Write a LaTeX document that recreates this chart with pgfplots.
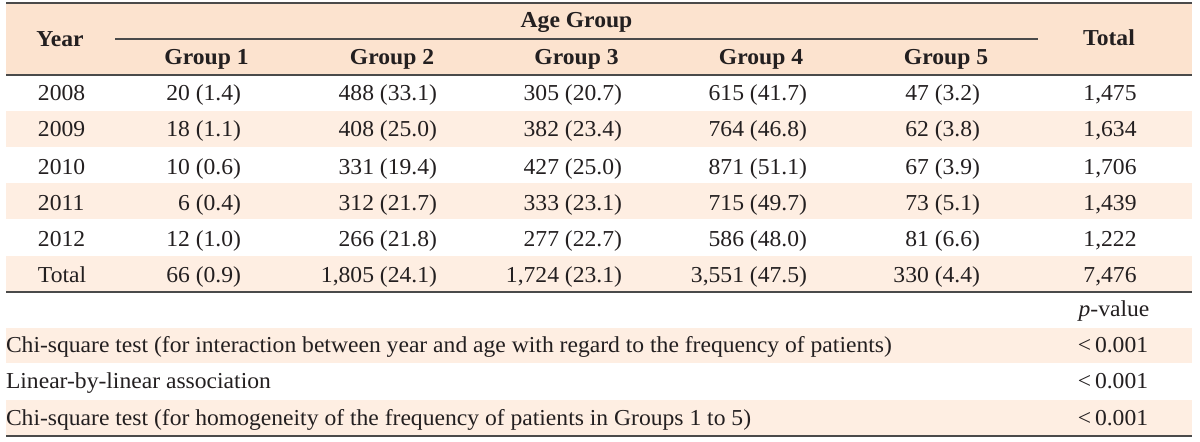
\documentclass[border=0pt]{standalone}
\usepackage{fontspec}
\setmainfont{Liberation Serif}[FakeStretch=1.035]
\usepackage{pgfplots}
\pgfplotsset{compat=1.18}
\definecolor{hdr}{HTML}{FCE3CF}
\definecolor{band}{HTML}{FEEEE2}
\definecolor{rule}{HTML}{4A4A4A}
\definecolor{txt}{HTML}{231F20}
\begin{document}
\begin{tikzpicture}[every node/.append style={inner sep=0pt, outer sep=0pt, text=txt, font=\fontsize{11.4}{13}\selectfont}]
\begin{axis}[
  scale only axis, width=600pt, height=220.5pt,
  xmin=0, xmax=1200, ymin=0, ymax=441, y dir=reverse,
  enlargelimits=false, hide axis, clip=false,
]
\path (axis cs:0,0) rectangle (axis cs:1200,441);
% shading
\fill[hdr] (axis cs:6,3) rectangle (axis cs:1192,75);
\fill[band] (axis cs:6,111) rectangle (axis cs:1192,147);
\fill[band] (axis cs:6,183) rectangle (axis cs:1192,219);
\fill[band] (axis cs:6,256) rectangle (axis cs:1192,291);
\fill[band] (axis cs:6,328) rectangle (axis cs:1192,363);
\fill[band] (axis cs:6,400) rectangle (axis cs:1192,435);
% rules
\draw[rule, line width=1pt] (axis cs:6,3) -- (axis cs:1192,3);
\draw[rule, line width=0.6pt] (axis cs:115,39) -- (axis cs:1038,39);
\draw[rule, line width=1pt] (axis cs:6,75) -- (axis cs:1192,75);
\draw[rule, line width=1pt] (axis cs:6,292) -- (axis cs:1192,292);
\draw[rule, line width=1pt] (axis cs:6,436) -- (axis cs:1192,436);
% header
\node[anchor=base] at (axis cs:60,47) {\textbf{Year}};
\node[anchor=base] at (axis cs:576.5,28) {\textbf{Age Group}};
\node[anchor=base] at (axis cs:1109,46) {\textbf{Total}};
\node[anchor=base] at (axis cs:206.5,65) {\textbf{Group 1}};
\node[anchor=base] at (axis cs:392,65) {\textbf{Group 2}};
\node[anchor=base] at (axis cs:576.5,65) {\textbf{Group 3}};
\node[anchor=base] at (axis cs:761,65) {\textbf{Group 4}};
\node[anchor=base] at (axis cs:946,65) {\textbf{Group 5}};
% year column
\node[anchor=base west] at (axis cs:38,101) {2008};
\node[anchor=base west] at (axis cs:38,137) {2009};
\node[anchor=base west] at (axis cs:38,174) {2010};
\node[anchor=base west] at (axis cs:38,210) {2011};
\node[anchor=base west] at (axis cs:38,246) {2012};
\node[anchor=base west] at (axis cs:38,282) {Total};
% group 1
\node[anchor=base east] at (axis cs:241,101) {20 (1.4)};
\node[anchor=base east] at (axis cs:241,137) {18 (1.1)};
\node[anchor=base east] at (axis cs:241,174) {10 (0.6)};
\node[anchor=base east] at (axis cs:241,210) {6 (0.4)};
\node[anchor=base east] at (axis cs:241,246) {12 (1.0)};
\node[anchor=base east] at (axis cs:241,282) {66 (0.9)};
% group 2
\node[anchor=base east] at (axis cs:437,101) {488 (33.1)};
\node[anchor=base east] at (axis cs:437,137) {408 (25.0)};
\node[anchor=base east] at (axis cs:437,174) {331 (19.4)};
\node[anchor=base east] at (axis cs:437,210) {312 (21.7)};
\node[anchor=base east] at (axis cs:437,246) {266 (21.8)};
\node[anchor=base east] at (axis cs:437,282) {1,805 (24.1)};
% group 3
\node[anchor=base east] at (axis cs:622,101) {305 (20.7)};
\node[anchor=base east] at (axis cs:622,137) {382 (23.4)};
\node[anchor=base east] at (axis cs:622,174) {427 (25.0)};
\node[anchor=base east] at (axis cs:622,210) {333 (23.1)};
\node[anchor=base east] at (axis cs:622,246) {277 (22.7)};
\node[anchor=base east] at (axis cs:622,282) {1,724 (23.1)};
% group 4
\node[anchor=base east] at (axis cs:807,101) {615 (41.7)};
\node[anchor=base east] at (axis cs:807,137) {764 (46.8)};
\node[anchor=base east] at (axis cs:807,174) {871 (51.1)};
\node[anchor=base east] at (axis cs:807,210) {715 (49.7)};
\node[anchor=base east] at (axis cs:807,246) {586 (48.0)};
\node[anchor=base east] at (axis cs:807,282) {3,551 (47.5)};
% group 5
\node[anchor=base east] at (axis cs:980,101) {47 (3.2)};
\node[anchor=base east] at (axis cs:980,137) {62 (3.8)};
\node[anchor=base east] at (axis cs:980,174) {67 (3.9)};
\node[anchor=base east] at (axis cs:980,210) {73 (5.1)};
\node[anchor=base east] at (axis cs:980,246) {81 (6.6)};
\node[anchor=base east] at (axis cs:980,282) {330 (4.4)};
% total
\node[anchor=base] at (axis cs:1110,101) {1,475};
\node[anchor=base] at (axis cs:1110,137) {1,634};
\node[anchor=base] at (axis cs:1110,174) {1,706};
\node[anchor=base] at (axis cs:1110,210) {1,439};
\node[anchor=base] at (axis cs:1110,246) {1,222};
\node[anchor=base] at (axis cs:1110,282) {7,476};
% stats
\node[anchor=base] at (axis cs:1114,316) {\textit{p}-value};
\node[anchor=base west] at (axis cs:6,352) {Chi-square test (for interaction between year and age with regard to the frequency of patients)};
\node[anchor=base west] at (axis cs:6,388) {Linear-by-linear association};
\node[anchor=base west] at (axis cs:6,425) {Chi-square test (for homogeneity of the frequency of patients in Groups 1 to 5)};
\node[anchor=base] at (axis cs:1113,352) {<\,0.001};
\node[anchor=base] at (axis cs:1113,388) {<\,0.001};
\node[anchor=base] at (axis cs:1113,425) {<\,0.001};
\end{axis}
\end{tikzpicture}
\end{document}
